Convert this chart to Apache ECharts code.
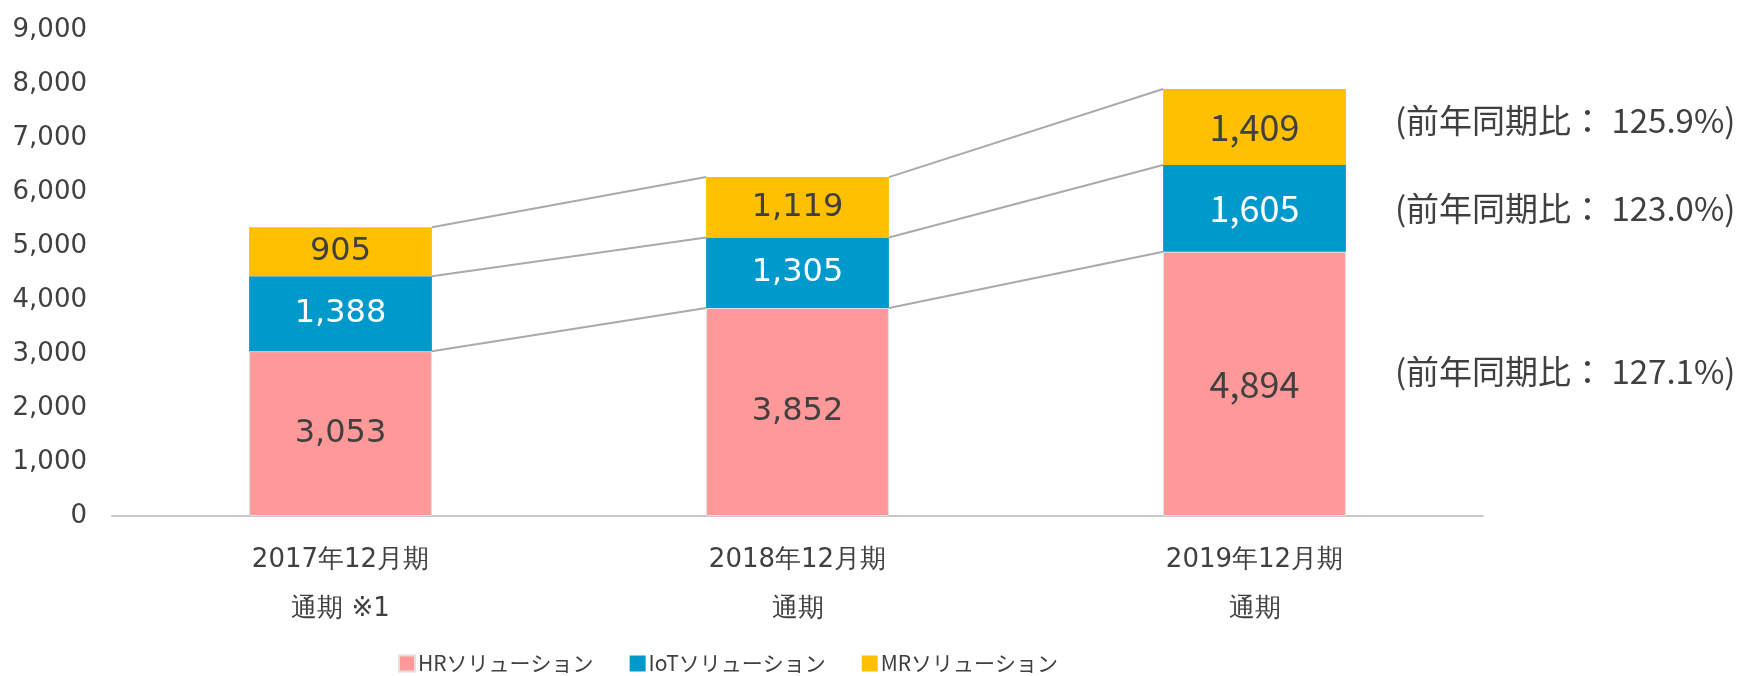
<!DOCTYPE html>
<html><head><meta charset="utf-8">
<script src="https://cdn.jsdelivr.net/npm/echarts@6/dist/echarts.min.js"></script>
<style>html,body{margin:0;padding:0;background:#fff}#c{width:1750px;height:676px}</style>
</head><body><div id="c"></div>
<script>
const categories = ['2017年12月期\n通期 ※1', '2018年12月期\n通期', '2019年12月期\n通期'];
const hr = [3053, 3852, 4894];
const iot = [1388, 1305, 1605];
const mr = [905, 1119, 1409];
const seriesNames = ['HRソリューション', 'IoTソリューション', 'MRソリューション'];
const yoyLabels = ['(前年同期比： 127.1%)', '(前年同期比： 123.0%)', '(前年同期比： 125.9%)'];
const yTicks = {min: 0, max: 9000, interval: 1000};

const colors = ['#FF9999', '#0099CC', '#FFC000'];
const BAR_RATIO = 0.4;
const stacks = [hr, iot, mr];
const cum = categories.map((_, i) => {
  let s = 0; return stacks.map(a => (s += a[i]));
});

function labelFor(color) {
  return {
    show: true, position: 'inside', fontSize: 32, color: color,
    fontFamily: 'DejaVu Sans',
    formatter: p => p.value.toLocaleString('en-US')
  };
}
function barData(arr) {
  return arr.map((v, i) => i === 2 ? {value: v, label: {fontFamily: 'Noto Sans CJK JP', fontSize: 36}} : v);
}

const chart = echarts.init(document.getElementById('c'));
chart.setOption({
  animation: false,
  grid: {left: 112, right: 267, top: 30, bottom: 160},
  legend: {
    bottom: 2, left: 398, padding: 0, itemWidth: 16, itemHeight: 16, itemGap: 36,
    icon: 'rect',
    textStyle: {fontSize: 21, color: '#404040', fontFamily: 'Noto Sans CJK JP', padding: [0,0,0,-2]},
    data: seriesNames
  },
  xAxis: {
    type: 'category', data: categories,
    axisLine: {lineStyle: {color: '#C8C8C8', width: 2}},
    axisTick: {show: false},
    axisLabel: {fontSize: 26, color: '#404040', fontFamily: 'DejaVu Sans', lineHeight: 49, margin: 20}
  },
  yAxis: {
    type: 'value', min: yTicks.min, max: yTicks.max, interval: yTicks.interval,
    splitLine: {show: false},
    axisLine: {show: false}, axisTick: {show: false},
    axisLabel: {fontSize: 26, color: '#404040', fontFamily: 'DejaVu Sans', margin: 25,
      formatter: v => v.toLocaleString('en-US')}
  },
  series: [
    {name: seriesNames[0], type: 'bar', stack: 's', data: barData(hr), barWidth: '40%',
      itemStyle: {color: colors[0], borderColor: '#E0E0E0', borderWidth: 1}, label: labelFor('#404040')},
    {name: seriesNames[1], type: 'bar', stack: 's', data: barData(iot),
      itemStyle: {color: colors[1]}, label: labelFor('#FFFFFF')},
    {name: seriesNames[2], type: 'bar', stack: 's', data: barData(mr),
      itemStyle: {color: colors[2]}, label: labelFor('#404040')},
    {
      type: 'custom', silent: true, z: 1,
      data: [0, 1],
      renderItem: function (params, api) {
        const i = api.value(0);
        const w = api.size([1, 0])[0] * BAR_RATIO;
        const children = cum[i].map((v, k) => {
          const p1 = api.coord([i, v]);
          const p2 = api.coord([i + 1, cum[i + 1][k]]);
          return {type: 'line', shape: {x1: p1[0] + w / 2, y1: p1[1], x2: p2[0] - w / 2, y2: p2[1]},
            style: {stroke: '#AAAAAA', lineWidth: 2}};
        });
        return {type: 'group', children: children};
      }
    },
    {
      type: 'custom', silent: true,
      data: [0, 1, 2],
      renderItem: function (params, api) {
        const k = api.value(0);
        const i = 2;
        const w = api.size([1, 0])[0] * BAR_RATIO;
        const lo = k === 0 ? 0 : cum[i][k - 1];
        const mid = (lo + cum[i][k]) / 2;
        const p = api.coord([i, mid]);
        return {type: 'text', x: p[0] + w / 2 + 49, y: p[1] + (k === 0 ? -12 : (k === 2 ? -7 : 0)),
          style: {text: yoyLabels[k], fontSize: 33, fill: '#404040', fontFamily: 'Noto Sans CJK JP',
            verticalAlign: 'middle', align: 'left'}};
      }
    }
  ]
});
</script></body></html>
